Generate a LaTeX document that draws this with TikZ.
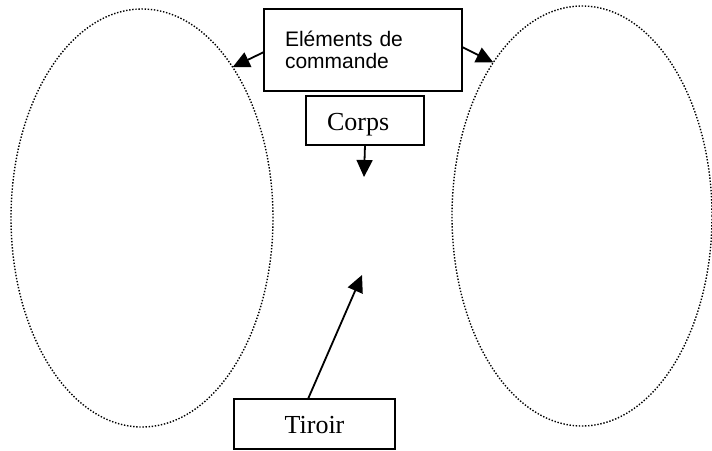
\documentclass[tikz,border=0pt]{standalone}
\usepackage{fontspec}
\setmainfont{Liberation Serif}
\newfontfamily\arialfont{Liberation Sans}
\usetikzlibrary{shapes.geometric}
\usetikzlibrary{arrows.meta}
\tikzset{>={Triangle[length=17pt,width=16pt]}}

\begin{document}
\begin{tikzpicture}[x=1pt,y=-1pt]
      \tikzstyle{enode} = [draw, ellipse, line width=1.4pt, dash pattern=on 1.4pt off 1.7pt, inner sep=0pt, outer sep=0pt, minimum width=262pt, minimum height=418pt]
      \tikzstyle{bnode} = [draw, rectangle, line width=2pt, inner sep=0pt, outer sep=0pt, font=\fontsize{26}{30}\selectfont]
      \tikzstyle{arr} = [->, line width=1.8pt]
      \useasboundingbox (0,0) rectangle (712,450);

      \node[enode] (gauche) at (142,218) {};
      \node[enode, minimum width=260pt, minimum height=420pt] (droite) at (582,216) {};

      \node[bnode, minimum width=198pt, minimum height=82pt, text width=156pt, align=left, font=\arialfont\fontsize{21}{22.5}\selectfont] (cmd) at (363,50) {Eléments de\\commande};
      \node[bnode, minimum width=118pt, minimum height=49pt, text width=76pt, align=left, text height=22pt, text depth=3pt] (corps) at (365,120.5) {Corps};
      \node[bnode, minimum width=161pt, minimum height=50pt, text height=20pt, text depth=2pt] (tiroir) at (314.5,424) {Tiroir};

      \coordinate (pcorps) at (364,177);
      \coordinate (ptiroir) at (362,275);

      \draw[arr] ([yshift=-2pt]cmd.west) -- (gauche.59);
      \draw[arr] ([yshift=3pt]cmd.east) -- (droite.120);
      \draw[arr] (corps.south) -- (pcorps);
      \draw[arr] ([xshift=-6.5pt]tiroir.north) -- (ptiroir);
    \end{tikzpicture}
\end{document}
